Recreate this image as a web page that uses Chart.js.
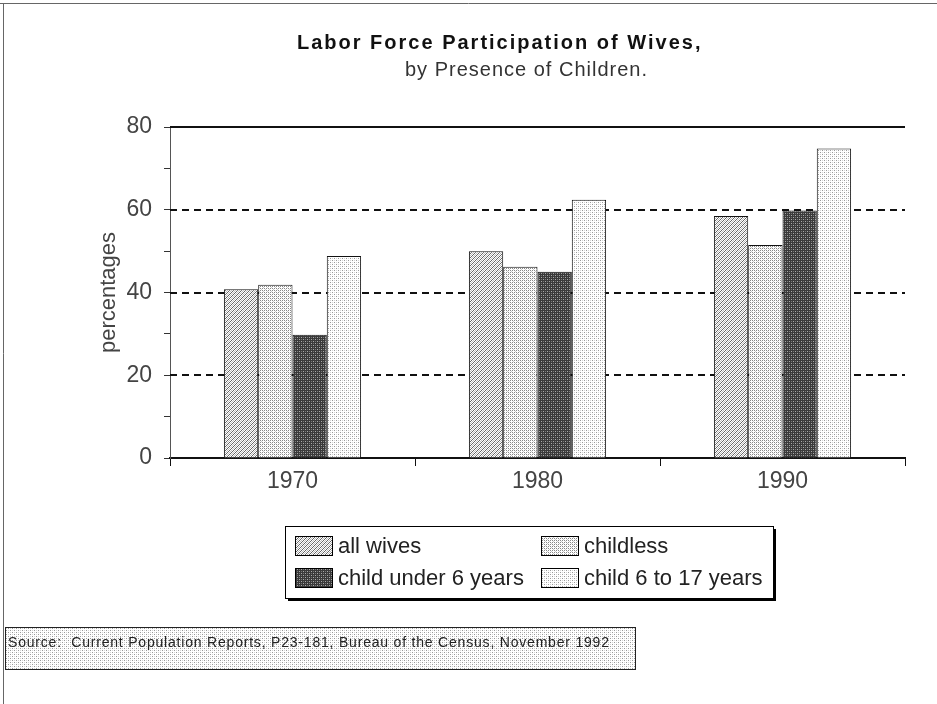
<!DOCTYPE html>
<html>
<head>
<meta charset="utf-8">
<script src="https://cdn.jsdelivr.net/npm/chart.js@4"></script>
<style>
  body { margin: 0; background: #fff; }
  canvas { display: block; }
</style>
</head>
<body>
<canvas id="chart" width="937" height="704"></canvas>
<script>
const years = ['1970', '1980', '1990'];
const allWives = [40.8, 50.0, 58.5];
const childless = [41.9, 46.2, 51.5];
const under6 = [29.8, 45.0, 59.8];
const age6to17 = [48.8, 62.4, 74.8];
const seriesNames = ['all wives', 'childless', 'child under 6 years', 'child 6 to 17 years'];
const yTicks = [0, 20, 40, 60, 80];

const FONT = '"Liberation Sans", Arial, sans-serif';

function makePattern(kind) {
  const c = document.createElement('canvas');
  const size = 4;
  c.width = size; c.height = size;
  const g = c.getContext('2d');
  g.fillStyle = '#fff';
  g.fillRect(0, 0, size, size);
  if (kind === 'hatch') {
    g.fillStyle = '#666';
    for (let i = 0; i < size; i++) g.fillRect(size - 1 - i, i, 1, 1);
    g.fillStyle = '#bbb';
    for (let i = 0; i < size; i++) g.fillRect((size + 1 - i) % size, i, 1, 1);
  } else if (kind === 'dots') {
    g.fillStyle = '#888';
    g.fillRect(0, 0, 1, 1); g.fillRect(2, 2, 1, 1);
    g.fillRect(2, 0, 1, 1); g.fillRect(0, 2, 1, 1);
    g.fillStyle = '#ccc';
    g.fillRect(1, 1, 1, 1); g.fillRect(3, 3, 1, 1);
  } else if (kind === 'dark') {
    g.fillStyle = '#3a3a3a';
    g.fillRect(0, 0, size, size);
    g.fillStyle = '#aaa';
    g.fillRect(1, 1, 1, 1); g.fillRect(3, 3, 1, 1);
    g.fillStyle = '#777';
    g.fillRect(1, 3, 1, 1); g.fillRect(3, 1, 1, 1);
  } else {
    g.fillStyle = '#999';
    g.fillRect(0, 0, 1, 1); g.fillRect(2, 2, 1, 1);
    g.fillStyle = '#d5d5d5';
    g.fillRect(2, 0, 1, 1); g.fillRect(0, 2, 1, 1);
  }
  return g.createPattern(c, 'repeat');
}

const fills = [makePattern('hatch'), makePattern('dots'), makePattern('dark'), makePattern('light')];

const decor = {
  id: 'decor',
  beforeDatasetsDraw(chart) {
    const { ctx, chartArea: a, scales: { y } } = chart;
    ctx.save();
    ctx.strokeStyle = '#111';
    ctx.lineWidth = 2;
    yTicks.forEach(v => {
      if (v === 0) return;
      const py = Math.round(y.getPixelForValue(v));
      ctx.setLineDash(v === 80 ? [] : [7, 5]);
      ctx.beginPath();
      ctx.moveTo(a.left, py);
      ctx.lineTo(a.right, py);
      ctx.stroke();
    });
    ctx.restore();
  },
  afterDraw(chart) {
    const { ctx } = chart;
    ctx.save();
    // page frame
    ctx.strokeStyle = '#666';
    ctx.lineWidth = 1;
    ctx.beginPath();
    ctx.moveTo(0, 3.5); ctx.lineTo(937, 3.5);
    ctx.moveTo(3.5, 3); ctx.lineTo(3.5, 704);
    ctx.stroke();

    // titles
    ctx.fillStyle = '#111';
    ctx.textAlign = 'left';
    ctx.textBaseline = 'middle';
    ctx.letterSpacing = '2px';
    ctx.font = 'bold 20px ' + FONT;
    ctx.fillText('Labor Force Participation of Wives,', 297, 43);
    ctx.letterSpacing = '1px';
    ctx.font = '20px ' + FONT;
    ctx.fillStyle = '#333';
    ctx.fillText('by Presence of Children.', 405, 70);

    // legend box
    const lx = 285, ly = 526, lw = 488, lh = 72;
    ctx.fillStyle = '#000';
    ctx.fillRect(lx + 3, ly + lh, lw, 3);
    ctx.fillRect(lx + lw, ly + 3, 3, lh);
    ctx.fillStyle = '#fff';
    ctx.fillRect(lx, ly, lw, lh);
    ctx.strokeStyle = '#000';
    ctx.lineWidth = 1;
    ctx.strokeRect(lx + 0.5, ly + 0.5, lw, lh);
    const cols = [295, 541];
    const rows = [546, 578];
    ctx.letterSpacing = '0px';
    ctx.font = '22px ' + FONT;
    ctx.textAlign = 'left';
    chart.data.datasets.forEach((ds, i) => {
      const x = cols[i % 2], yy = rows[Math.floor(i / 2)];
      ctx.fillStyle = ds.backgroundColor;
      ctx.fillRect(x, yy - 10, 37, 19);
      ctx.strokeStyle = '#000';
      ctx.strokeRect(x + 0.5, yy - 9.5, 37, 19);
      ctx.fillStyle = '#222';
      ctx.fillText(ds.label, x + 43, yy + 1);
    });

    // source box
    const sx = 5, sy = 627, sw = 630, sh = 42;
    ctx.fillStyle = makePattern('light');
    ctx.fillRect(sx, sy, sw, sh);
    ctx.strokeStyle = '#222';
    ctx.strokeRect(sx + 0.5, sy + 0.5, sw, sh);
    ctx.fillStyle = '#222';
    ctx.letterSpacing = '0.8px';
    ctx.font = '14px ' + FONT;
    ctx.fillText('Source:  Current Population Reports, P23-181, Bureau of the Census, November 1992', sx + 3, sy + 16);
    ctx.restore();
  }
};

const seriesData = [allWives, childless, under6, age6to17];

new Chart(document.getElementById('chart'), {
  type: 'bar',
  data: {
    labels: years,
    datasets: seriesData.map((d, i) => ({
      label: seriesNames[i],
      data: d,
      backgroundColor: fills[i],
      borderColor: '#111',
      borderWidth: 1,
      borderSkipped: 'bottom',
      categoryPercentage: 0.56,
      barPercentage: 1.0
    }))
  },
  options: {
    responsive: false,
    animation: false,
    layout: { padding: { top: 127, right: 32, left: 0, bottom: 0 } },
    plugins: {
      legend: { display: false },
      tooltip: { enabled: false }
    },
    scales: {
      x: {
        afterFit(s) { s.height = 246; },
        grid: { offset: true, drawOnChartArea: false, drawTicks: true, tickLength: 8, color: '#111' },
        border: { color: '#111', width: 2 },
        ticks: { color: '#444', padding: 2, font: { size: 23, family: FONT } }
      },
      y: {
        min: 0,
        max: 80,
        afterFit(s) { s.width = 170; },
        grid: { drawOnChartArea: false, drawTicks: true, tickLength: 6, color: '#333' },
        border: { color: '#555', width: 1 },
        ticks: {
          stepSize: 10,
          padding: 12,
          color: '#444',
          font: { size: 23, family: FONT },
          callback: v => (yTicks.includes(v) ? v : '')
        },
        title: {
          display: true,
          text: 'percentages',
          color: '#444',
          padding: { top: 96, bottom: 0 },
          font: { size: 22, family: FONT }
        }
      }
    }
  },
  plugins: [decor]
});
</script>
</body>
</html>
